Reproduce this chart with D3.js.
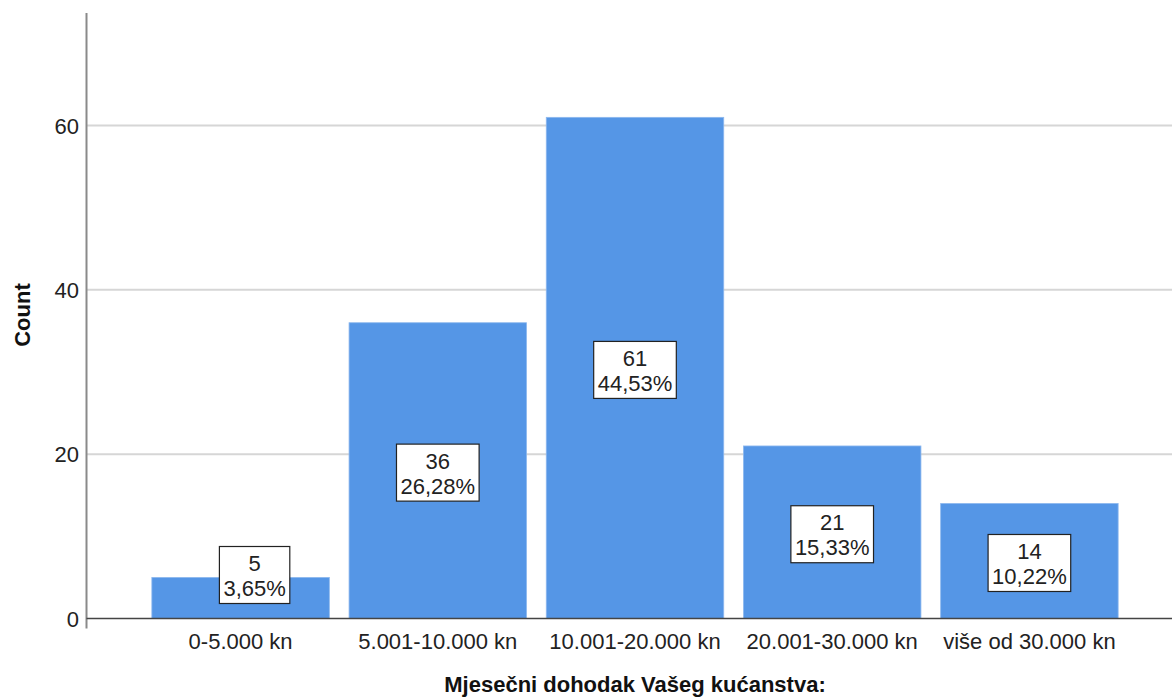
<!DOCTYPE html>
<html>
<head>
<meta charset="utf-8">
<script src="https://cdn.jsdelivr.net/npm/d3@7"></script>
<style>
  body { margin: 0; background: #fff; }
  svg text { font-family: "Liberation Sans", Arial, sans-serif; }
</style>
</head>
<body>
<div id="place"></div>
<script>
// categories and counts
const categories = ["0-5.000 kn", "5.001-10.000 kn", "10.001-20.000 kn", "20.001-30.000 kn", "više od 30.000 kn"];
const counts = [5, 36, 61, 21, 14];
const percents = ["3,65%", "26,28%", "44,53%", "15,33%", "10,22%"];
const yTicks = [0, 20, 40, 60];
const xTitle = "Mjesečni dohodak Vašeg kućanstva:";
const yTitle = "Count";

const width = 1172, height = 698;

let svg = d3.select("#place")
    .append("svg")
    .attr("width", width)
    .attr("height", height);

const axisX = 86.5;
const baseY = 618.5;

let x = d3.scaleBand()
    .domain(categories)
    .range([142, 1128])
    .paddingInner(0.1)
    .paddingOuter(0.05);

let y = d3.scaleLinear()
    .domain([0, 73.7])
    .range([baseY, 13]);

// gridlines
svg.append("g")
    .selectAll("line")
    .data(yTicks.filter(d => d > 0))
    .join("line")
    .attr("x1", axisX)
    .attr("x2", width)
    .attr("y1", d => y(d))
    .attr("y2", d => y(d))
    .attr("stroke", "#d6d6d6")
    .attr("stroke-width", 2);

// bars
svg.append("g")
    .selectAll("rect")
    .data(counts)
    .join("rect")
    .attr("x", (d, i) => x(categories[i]))
    .attr("width", x.bandwidth())
    .attr("y", d => y(d))
    .attr("height", d => baseY - y(d))
    .attr("fill", "#5596e6")
    .attr("stroke", "#8db8ee")
    .attr("stroke-width", 0.8);

// y axis line
svg.append("line")
    .attr("x1", axisX).attr("x2", axisX)
    .attr("y1", 13).attr("y2", baseY + 10)
    .attr("stroke", "#8a8a8a")
    .attr("stroke-width", 2);

// baseline
svg.append("line")
    .attr("x1", axisX).attr("x2", width)
    .attr("y1", baseY).attr("y2", baseY)
    .attr("stroke", "#444")
    .attr("stroke-width", 1.5);

// y tick labels
svg.append("g")
    .selectAll("text")
    .data(yTicks)
    .join("text")
    .attr("x", 79)
    .attr("y", d => y(d) + 8)
    .attr("text-anchor", "end")
    .attr("font-size", 22)
    .attr("fill", "#222")
    .text(d => d);

// x tick labels
svg.append("g")
    .selectAll("text")
    .data(categories)
    .join("text")
    .attr("x", d => x(d) + x.bandwidth() / 2)
    .attr("y", 649)
    .attr("text-anchor", "middle")
    .attr("font-size", 22)
    .attr("fill", "#222")
    .text(d => d);

// labels in boxes
let labels = svg.append("g")
    .selectAll("g")
    .data(counts)
    .join("g");

labels.each(function (d, i) {
    let g = d3.select(this);
    let cx = x(categories[i]) + x.bandwidth() / 2;
    let boxH = 57;
    let cy = (y(d) + baseY) / 2 + 2;
    if (cy + boxH / 2 > baseY - 15) {
        cy = baseY - 15 - boxH / 2;
        cx += 14;
    }
    let rect = g.append("rect");
    let t1 = g.append("text")
        .attr("x", cx)
        .attr("y", cy - 4)
        .attr("text-anchor", "middle")
        .attr("font-size", 22)
        .attr("fill", "#222")
        .text(d);
    let t2 = g.append("text")
        .attr("x", cx)
        .attr("y", cy + 21)
        .attr("text-anchor", "middle")
        .attr("font-size", 22)
        .attr("fill", "#222")
        .text(percents[i]);
    let w = Math.max(t1.node().getComputedTextLength(), t2.node().getComputedTextLength()) + 8;
    rect.attr("x", cx - w / 2)
        .attr("y", cy - boxH / 2)
        .attr("width", w)
        .attr("height", boxH)
        .attr("fill", "#fff")
        .attr("stroke", "#222")
        .attr("stroke-width", 1.2);
});

// axis titles
svg.append("text")
    .attr("x", (x.range()[0] + x.range()[1]) / 2)
    .attr("y", 692)
    .attr("text-anchor", "middle")
    .attr("font-size", 22)
    .attr("font-weight", "bold")
    .attr("fill", "#111")
    .text(xTitle);

svg.append("text")
    .attr("transform", "translate(30,315) rotate(-90)")
    .attr("text-anchor", "middle")
    .attr("font-size", 22)
    .attr("font-weight", "bold")
    .attr("fill", "#111")
    .text(yTitle);
</script>
</body>
</html>
